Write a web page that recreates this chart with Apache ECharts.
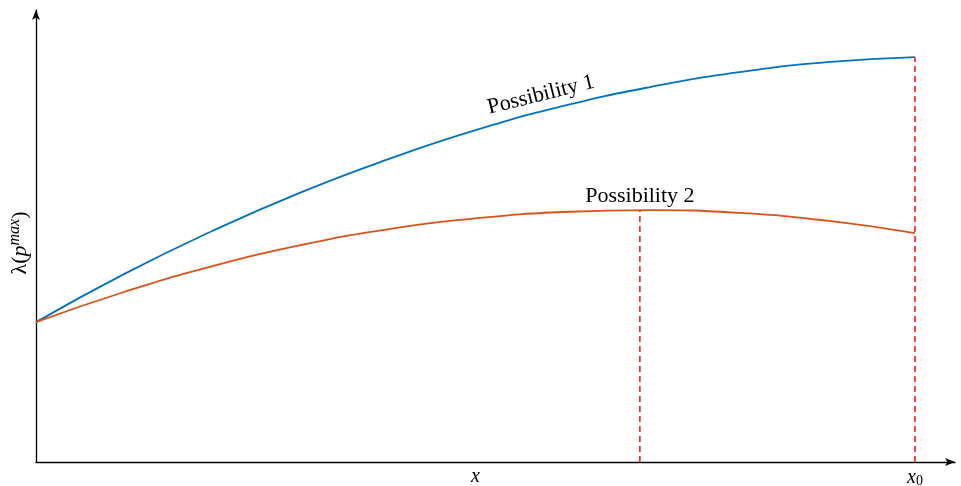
<!DOCTYPE html>
<html>
<head>
<meta charset="utf-8">
<script src="https://cdn.jsdelivr.net/npm/echarts@6/dist/echarts.min.js"></script>
<style>html,body{margin:0;padding:0;background:#fff}#c{width:961px;height:486px}</style>
</head>
<body>
<div id="c"></div>
<script>
// x positions (x0 = 1)
const xs = [0, 0.1, 0.2, 0.3, 0.4, 0.5, 0.6, 0.7, 0.8, 0.9, 1.0];
const possibility1 = [0.306, 0.411, 0.505, 0.589, 0.662, 0.726, 0.779, 0.821, 0.853, 0.875, 0.886];
const possibility2 = [0.306, 0.372, 0.428, 0.474, 0.509, 0.533, 0.547, 0.551, 0.545, 0.528, 0.501];
const peakX = 0.687, peakY = 0.551;
const endX = 1.0, endY = 0.886;
const label1 = { text: 'Possibility 1', x: 0.5745, y: 0.803, rotate: 14 };
const label2 = { text: 'Possibility 2', x: 0.687, y: 0.582 };

const FONT = 'Liberation Serif';
const chart = echarts.init(document.getElementById('c'));
const zip = (a, b) => a.map((v, i) => [v, b[i]]);
chart.setOption({
  animation: false,
  grid: { left: 36, right: 6, top: 10, bottom: 24, outerBoundsMode: 'none', containLabel: false },
  xAxis: {
    type: 'value', min: 0, max: 1.0455, interval: 0.5,
    splitLine: { show: false },
    axisTick: { show: false },
    axisLine: { lineStyle: { color: '#000', width: 1.3 }, symbol: ['none', 'arrow'], symbolSize: [6, 10] },
    axisLabel: {
      margin: 5,
      formatter: v => {
        const k = Math.round(v * 1000) / 1000;
        if (k === 0.5) return '{i|x}';
        if (k === 1) return '{i|x}{s|0}';
        return '';
      },
      rich: {
        i: { fontFamily: FONT, fontStyle: 'italic', fontSize: 20, color: '#000' },
        s: { fontFamily: FONT, fontSize: 14, color: '#000', verticalAlign: 'bottom', padding: [7, 0, 0, 0] }
      }
    }
  },
  yAxis: {
    type: 'value', min: 0, max: 0.989,
    splitLine: { show: false },
    axisTick: { show: false },
    axisLabel: { show: false },
    axisLine: { lineStyle: { color: '#000', width: 1.3 }, symbol: ['none', 'arrow'], symbolSize: [6, 10] },
    name: '{n|λ(}{i|p}{sup|max}{n|)}',
    nameLocation: 'middle', nameGap: 3,
    nameTextStyle: {
      padding: [0, 14, 0, 0],
      rich: {
        n: { fontFamily: FONT, fontSize: 22, color: '#000' },
        i: { fontFamily: FONT, fontStyle: 'italic', fontSize: 22, color: '#000' },
        sup: { fontFamily: FONT, fontStyle: 'italic', fontSize: 16, color: '#000', verticalAlign: 'top', padding: [0, 0, 10, 0] }
      }
    }
  },
  series: [
    { type: 'line', data: zip(xs, possibility1), smooth: true, showSymbol: false,
      lineStyle: { color: '#0072BD', width: 1.8 } },
    { type: 'line', data: zip(xs, possibility2), smooth: true, showSymbol: false,
      lineStyle: { color: '#D95319', width: 1.8 } },
    { type: 'line', data: [[peakX, 0], [peakX, peakY]], showSymbol: false,
      lineStyle: { color: '#ff1a1a', width: 1.6, type: [6, 4] } },
    { type: 'line', data: [[endX, 0], [endX, endY]], showSymbol: false,
      lineStyle: { color: '#ff1a1a', width: 1.6, type: [6, 4] } },
    { type: 'scatter', symbolSize: 0, itemStyle: { opacity: 1 }, data: [[label1.x, label1.y]],
      label: { show: true, position: 'inside', formatter: label1.text, rotate: label1.rotate,
        fontFamily: FONT, fontSize: 22, color: '#000', textBorderWidth: 0 } },
    { type: 'scatter', symbolSize: 0, itemStyle: { opacity: 1 }, data: [[label2.x, label2.y]],
      label: { show: true, position: 'inside', formatter: label2.text,
        fontFamily: FONT, fontSize: 22, color: '#000', textBorderWidth: 0 } }
  ]
});
</script>
</body>
</html>
